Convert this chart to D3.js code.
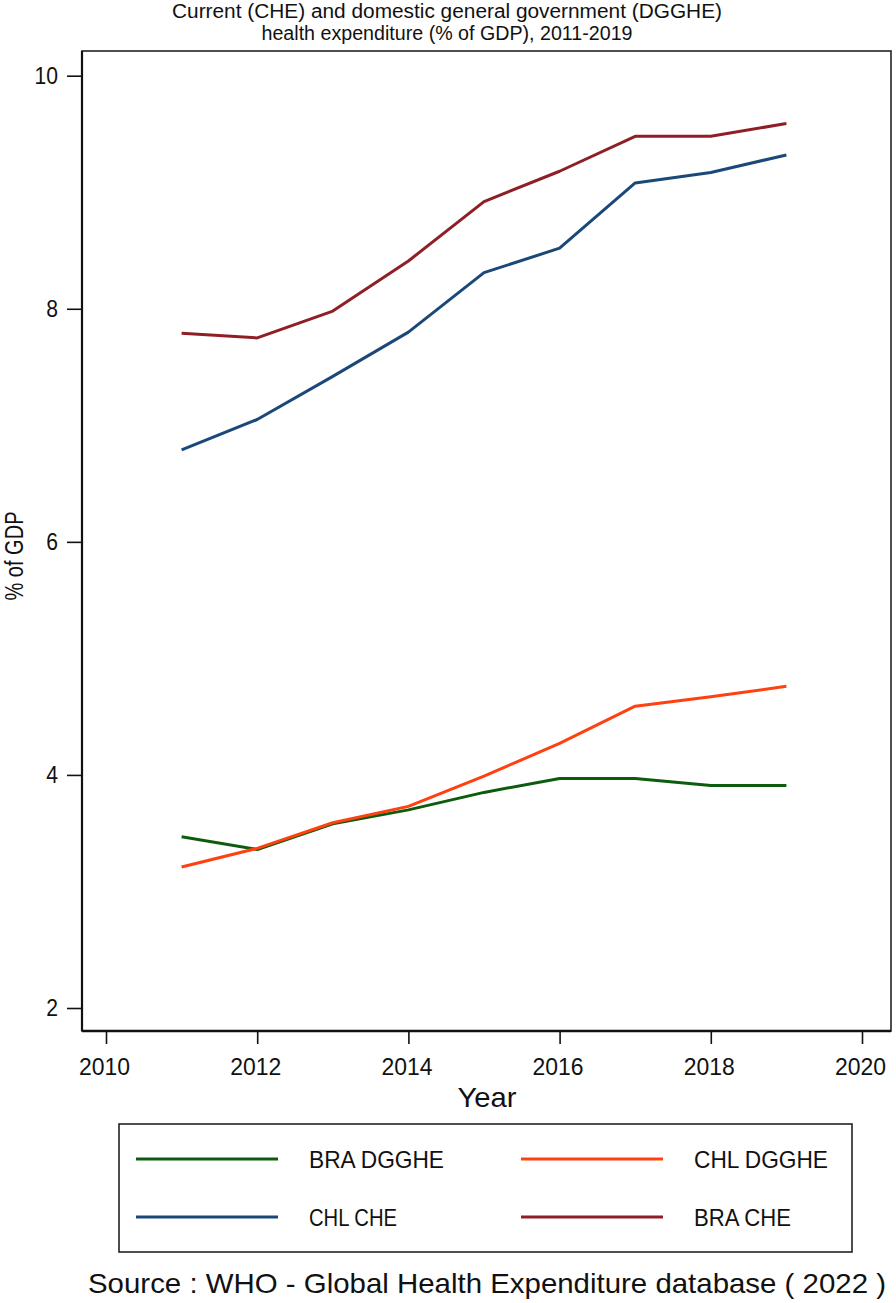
<!DOCTYPE html>
<html><head><meta charset="utf-8">
<script src="https://cdn.jsdelivr.net/npm/d3@7"></script>
<style>body{margin:0;background:#fff}svg{display:block}text{font-family:"Liberation Sans",Arial,sans-serif;fill:#111}</style>
</head><body><svg id="c" width="896" height="1303"></svg>
<script>
const years = [2011,2012,2013,2014,2015,2016,2017,2018,2019];
const braDGGHE = [3.47,3.36,3.58,3.70,3.85,3.97,3.97,3.91,3.91];
const chlDGGHE = [3.21,3.37,3.59,3.73,3.99,4.27,4.59,4.67,4.76];
const chlCHE   = [6.79,7.05,7.42,7.80,8.31,8.52,9.08,9.17,9.32];
const braCHE   = [7.79,7.75,7.98,8.41,8.92,9.18,9.48,9.48,9.59];
const xTicks = [2010,2012,2014,2016,2018,2020];
const yTicks = [2,4,6,8,10];
const seriesNames = ["BRA DGGHE","CHL DGGHE","CHL CHE","BRA CHE"];
const seriesColors = ["#0d5c0d","#ff4010","#1a4878","#8e1f26"];
const seriesData = [braDGGHE, chlDGGHE, chlCHE, braCHE];

const svg = d3.select("#c");
const L=82, R=891, T=51, B=1031;
const x = d3.scaleLinear().domain([2010,2020]).range([106,862]);
const y = d3.scaleLinear().domain([2,10]).range([1008,75.7]);

// title
svg.append("text").attr("x",447).attr("y",18).attr("text-anchor","middle").attr("font-size",20)
  .attr("textLength",550).attr("lengthAdjust","spacingAndGlyphs")
  .text("Current (CHE) and domestic general government (DGGHE)");
svg.append("text").attr("x",447).attr("y",40).attr("text-anchor","middle").attr("font-size",20)
  .attr("textLength",371).attr("lengthAdjust","spacingAndGlyphs")
  .text("health expenditure (% of GDP), 2011-2019");

// frame
svg.append("rect").attr("x",L).attr("y",T).attr("width",R-L).attr("height",B-T)
  .attr("fill","none").attr("stroke","#222").attr("stroke-width",1.6);

// y axis
const ya = svg.append("g").attr("transform",`translate(${L},0)`)
  .call(d3.axisLeft(y).tickValues(yTicks).tickSize(15).tickPadding(9).tickFormat(d3.format("d")));
ya.select(".domain").attr("d",`M0,${T}V${B}`).attr("stroke","#111").attr("stroke-width",2.2);
ya.selectAll(".tick line").attr("stroke","#111").attr("stroke-width",1.6);
ya.selectAll(".tick text").attr("font-size",23).attr("font-family","Liberation Sans, Arial, sans-serif").attr("fill","#111")
  .attr("transform","scale(0.92,1)").attr("x",-26);

// x axis
const xa = svg.append("g").attr("transform",`translate(0,${B})`)
  .call(d3.axisBottom(x).tickValues(xTicks).tickSize(13).tickPadding(15).tickFormat(d3.format("d")));
xa.select(".domain").attr("d",`M${L},0H${R}`).attr("stroke","#111").attr("stroke-width",2.6);
xa.selectAll(".tick line").attr("stroke","#111").attr("stroke-width",1.6);
xa.selectAll(".tick text").attr("font-size",23).attr("font-family","Liberation Sans, Arial, sans-serif").attr("fill","#111")
  .attr("textLength",51).attr("lengthAdjust","spacingAndGlyphs").attr("x",-2);

// axis titles
svg.append("text").attr("x",487).attr("y",1107).attr("text-anchor","middle").attr("font-size",28)
  .attr("textLength",59).attr("lengthAdjust","spacingAndGlyphs").text("Year");
svg.append("text").attr("transform","translate(23,556) rotate(-90)").attr("text-anchor","middle").attr("font-size",26)
  .attr("textLength",89).attr("lengthAdjust","spacingAndGlyphs").text("% of GDP");

// lines
const line = d3.line().x((d,i)=>x(years[i])).y(d=>y(d));
seriesData.forEach((s,k)=>{
  svg.append("path").datum(s).attr("d",line).attr("fill","none")
    .attr("stroke",seriesColors[k]).attr("stroke-width",3).attr("stroke-linejoin","round");
});

// legend
svg.append("rect").attr("x",119).attr("y",1124).attr("width",733).attr("height",128)
  .attr("fill","none").attr("stroke","#222").attr("stroke-width",1.6);
const lx = [136,521], ly=[1159,1217];
const lw = [135,134,88,97];
seriesNames.forEach((n,k)=>{
  const cx = lx[k%2], cy = ly[Math.floor(k/2)];
  svg.append("line").attr("x1",cx).attr("x2",cx+142).attr("y1",cy).attr("y2",cy)
    .attr("stroke",seriesColors[k]).attr("stroke-width",3);
  svg.append("text").attr("x",cx+173).attr("y",cy+9).attr("font-size",24)
    .attr("textLength",lw[k]).attr("lengthAdjust","spacingAndGlyphs").text(n);
});

// source
svg.append("text").attr("x",487).attr("y",1293).attr("text-anchor","middle").attr("font-size",28)
  .attr("textLength",798).attr("lengthAdjust","spacingAndGlyphs")
  .text("Source : WHO - Global Health Expenditure database ( 2022 )");
</script></body></html>
